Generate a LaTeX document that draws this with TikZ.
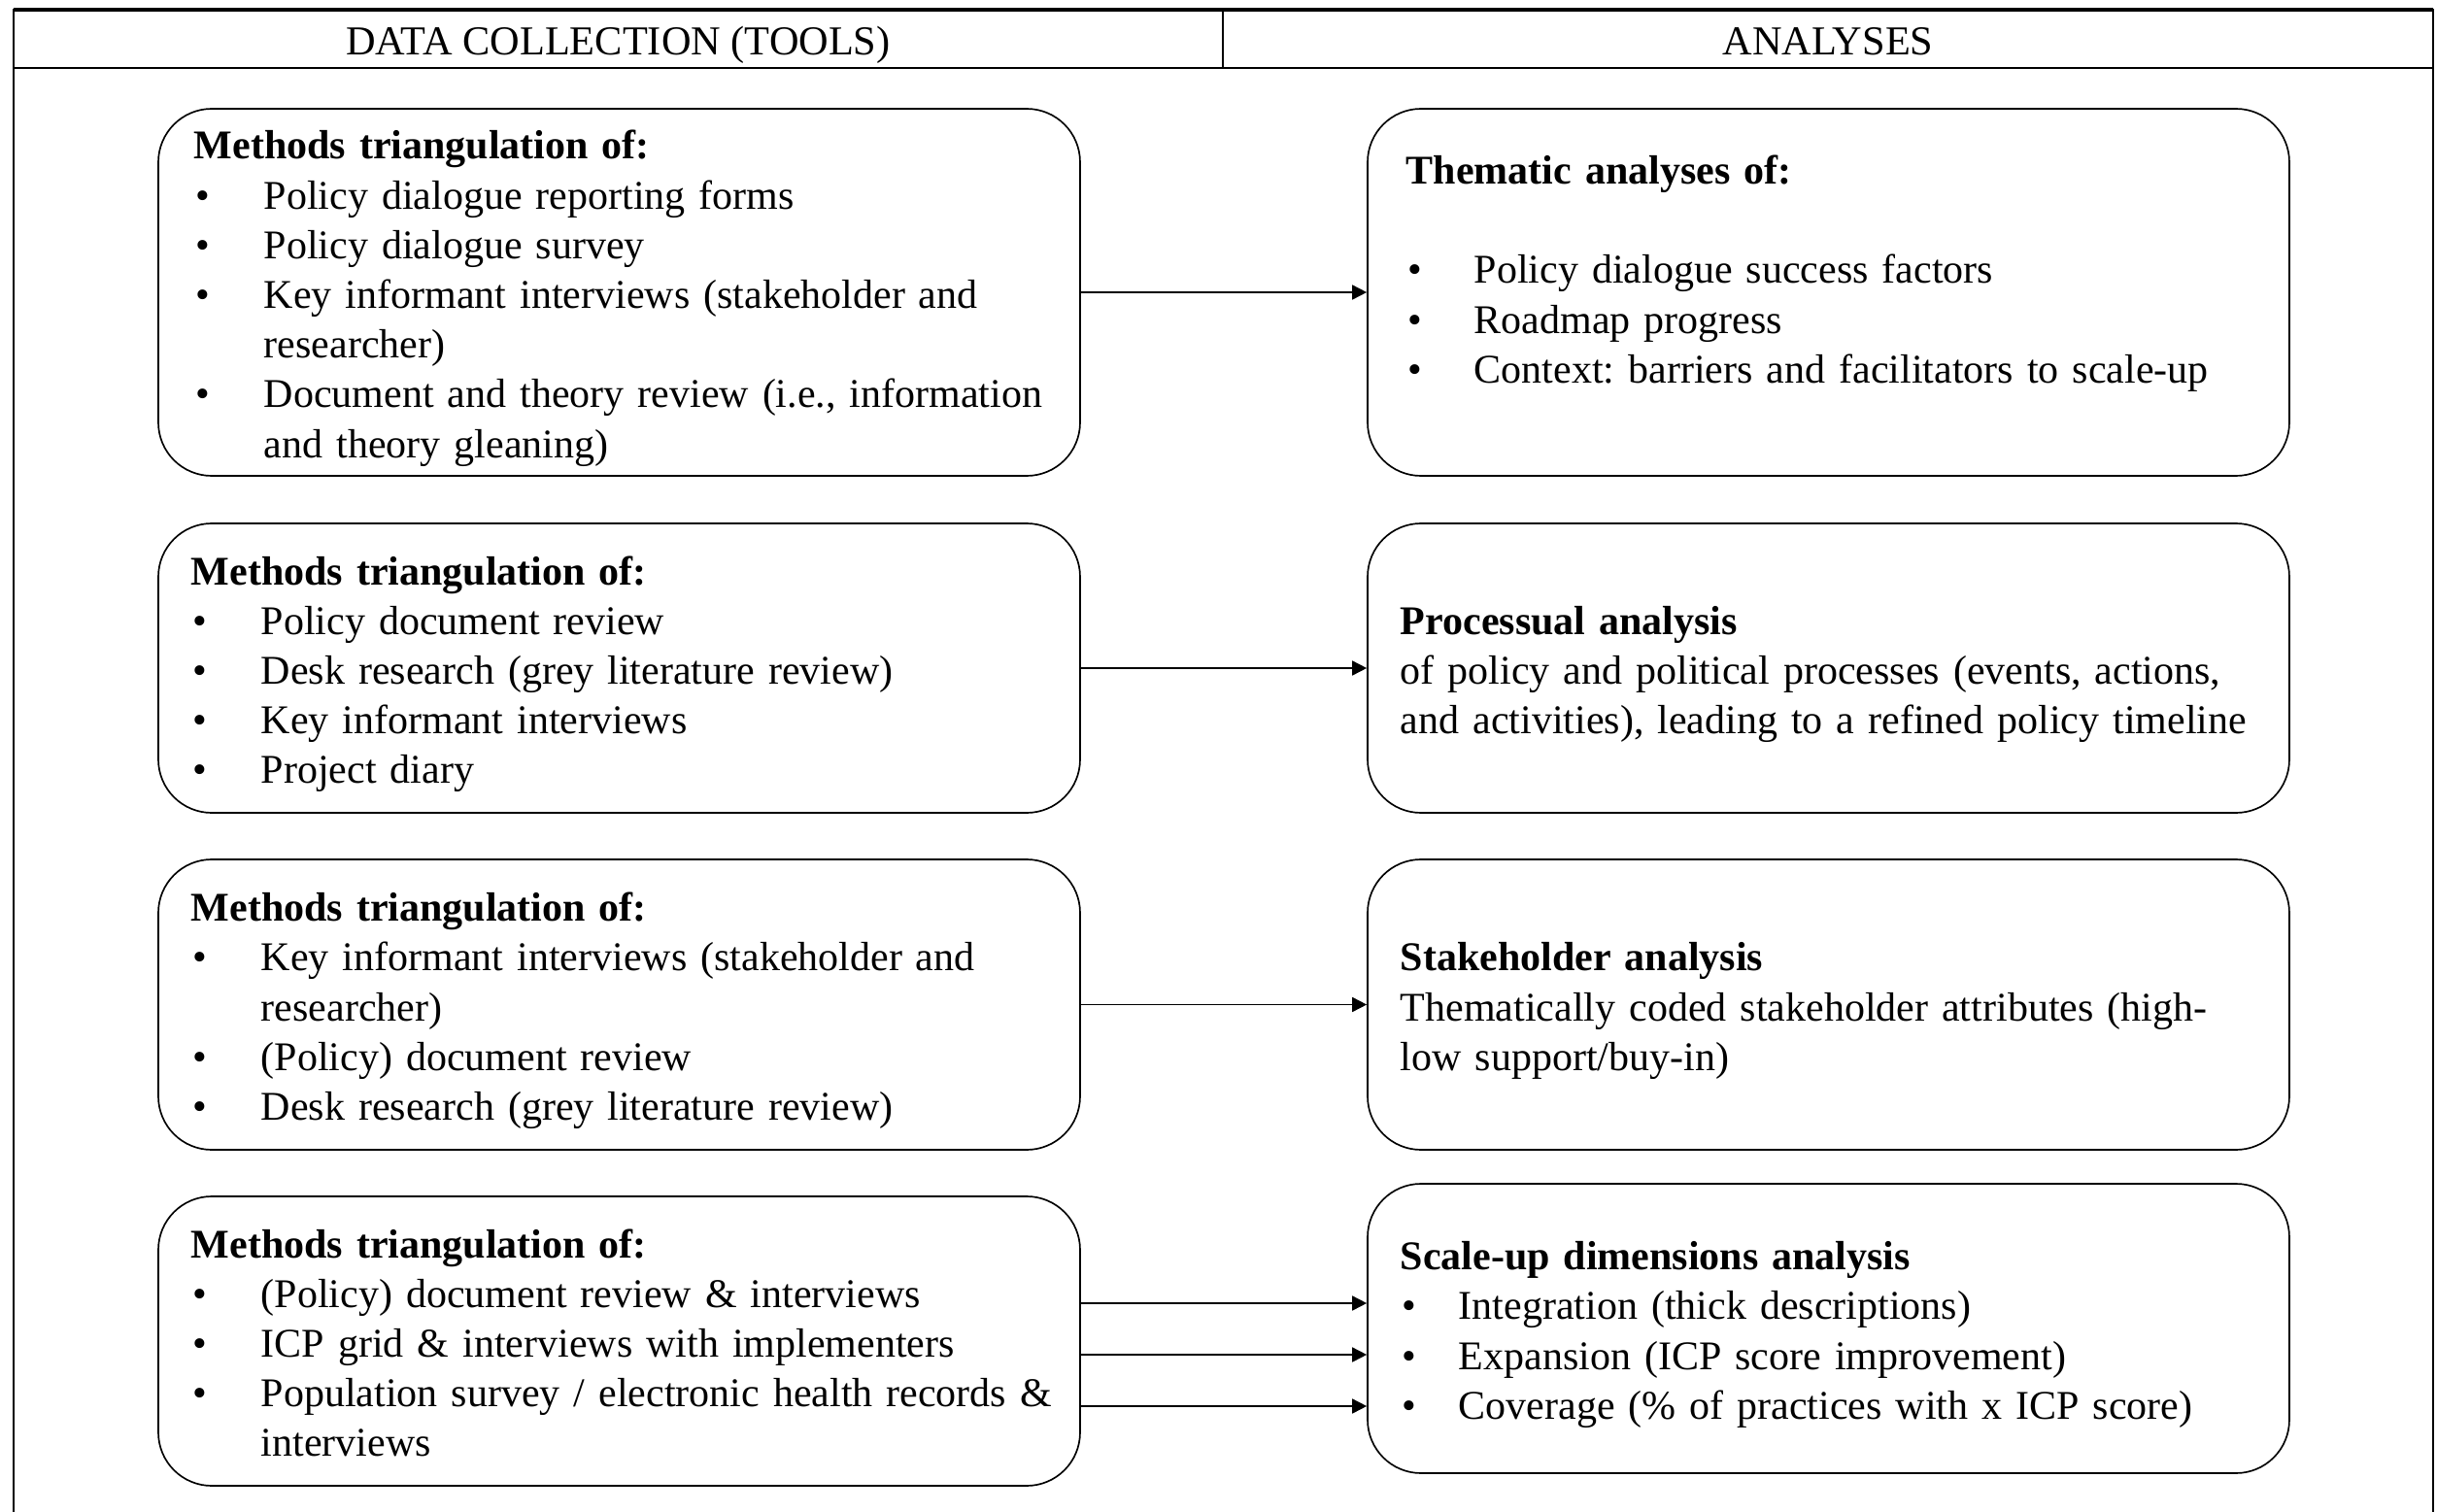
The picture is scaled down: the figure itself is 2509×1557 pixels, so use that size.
\documentclass[tikz,border=0pt]{standalone}
\usepackage{fontspec}
\setmainfont{Liberation Serif}
\usetikzlibrary{arrows.meta}
\newcommand{\bodyfont}{\fontsize{12.6}{15.36}\selectfont\frenchspacing}
\newcommand{\itm}[2][21.6pt]{\par\hangindent=#1\hangafter=1\noindent\strut\makebox[#1][l]{\hspace{0.4pt}\textbullet}#2\strut\par}

\begin{document}
\begin{tikzpicture}[x=0.3pt, y=-0.3pt,
  box/.style={draw, line width=0.5pt, rounded corners=16.5pt, minimum width=284.7pt, inner sep=0pt},
  txt/.style={anchor=west, yshift=-1.9pt, inner sep=0pt, text width=300pt, align=left, font=\bodyfont},
  arr/.style={-{Triangle[length=4.5pt,width=4.5pt]}, line width=0.5pt}]
\useasboundingbox (0,0) rectangle (2509,1557);
\draw[line width=0.6pt] (14,1620) -- (14,10) -- (2505,10) -- (2505,1620);
\draw[line width=1.1pt] (14,10) -- (2505,10);
\draw[line width=0.6pt] (14,70) -- (2505,70);
\draw[line width=0.6pt] (1259,10) -- (1259,70);
\node[anchor=base, font=\fontsize{12.7}{15}\selectfont] (hdc) at (636.5,56) {DATA COLLECTION (TOOLS)};
\node[anchor=base, font=\fontsize{12.7}{15}\selectfont] (han) at (1882,56) {ANALYSES};

\node[box, minimum height=113.4pt] (dc1) at (637.5,301) {};
\node[box, minimum height=89.4pt] (dc2) at (637.5,688) {};
\node[box, minimum height=89.7pt] (dc3) at (637.5,1034.5) {};
\node[box, minimum height=89.4pt] (dc4) at (637.5,1381) {};
\node[box, minimum height=113.4pt] (an1) at (1882.5,301) {};
\node[box, minimum height=89.4pt] (an2) at (1882.5,688) {};
\node[box, minimum height=89.7pt] (an3) at (1882.5,1034.5) {};
\node[box, minimum height=89.4pt] (an4) at (1882.5,1368) {};

\node[txt] (dc1txt) at ([xshift=11.1pt]dc1.west) {\strut\textbf{Methods triangulation of:}
  \itm{Policy dialogue reporting forms}
  \itm{Policy dialogue survey}
  \itm{Key informant interviews (stakeholder and\newline researcher)}
  \itm{Document and theory review (i.e., information\newline and theory gleaning)}};
\node[txt] (dc2txt) at ([xshift=10.2pt]dc2.west) {\strut\textbf{Methods triangulation of:}
  \itm{Policy document review}
  \itm{Desk research (grey literature review)}
  \itm{Key informant interviews}
  \itm{Project diary}};
\node[txt] (dc3txt) at ([xshift=10.2pt]dc3.west) {\strut\textbf{Methods triangulation of:}
  \itm{Key informant interviews (stakeholder and\newline researcher)}
  \itm{(Policy) document review}
  \itm{Desk research (grey literature review)}};
\node[txt] (dc4txt) at ([xshift=10.2pt]dc4.west) {\strut\textbf{Methods triangulation of:}
  \itm{(Policy) document review \& interviews}
  \itm{ICP grid \& interviews with implementers}
  \itm{Population survey / electronic health records \&\newline interviews}};

\node[txt] (an1txt) at ([xshift=12pt]an1.west) {\strut\textbf{Thematic analyses of:}\par\strut
  \itm[21pt]{Policy dialogue success factors}
  \itm[21pt]{Roadmap progress}
  \itm[21pt]{Context: barriers and facilitators to scale-up}\strut};
\node[txt] (an2txt) at ([xshift=10.2pt]an2.west) {\strut\textbf{Processual analysis}\\
  of policy and political processes (events, actions,\\
  and activities), leading to a refined policy timeline\strut};
\node[txt] (an3txt) at ([xshift=10.2pt]an3.west) {\strut\textbf{Stakeholder analysis}\\
  Thematically coded stakeholder attributes (high-\\
  low support/buy-in)\strut};
\node[txt] (an4txt) at ([xshift=10.2pt]an4.west) {\strut\textbf{Scale-up dimensions analysis}
  \itm[18pt]{Integration (thick descriptions)}
  \itm[18pt]{Expansion (ICP score improvement)}
  \itm[18pt]{Coverage (\% of practices with x ICP score)}};

\draw[arr] (dc1.east) -- (an1.west);
\draw[arr] (dc2.east) -- (an2.west);
\draw[arr] (dc3.east) -- (an3.west);
\draw[arr] ([yshift=11.7pt]dc4.east) -- ([yshift=11.7pt]dc4.east -| an4.west);
\draw[arr] ([yshift=-4.2pt]dc4.east) -- ([yshift=-4.2pt]dc4.east -| an4.west);
\draw[arr] ([yshift=-20.1pt]dc4.east) -- ([yshift=-20.1pt]dc4.east -| an4.west);
\end{tikzpicture}
\end{document}
